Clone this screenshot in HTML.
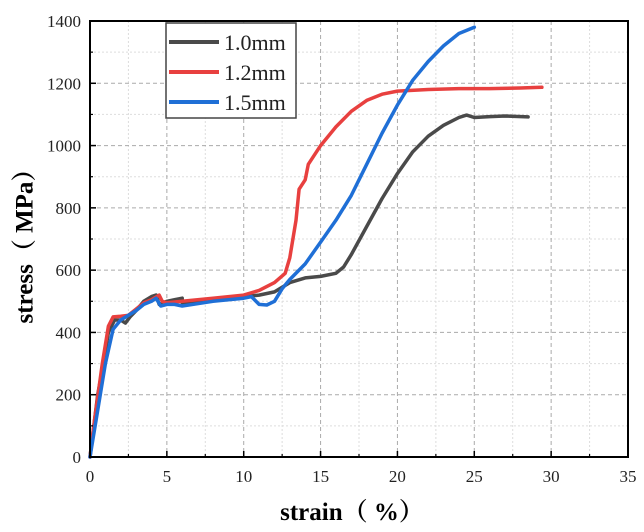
<!DOCTYPE html>
<html><head><meta charset="utf-8"><style>
body{margin:0;background:#fff;}
svg{display:block;font-family:"Liberation Serif","Noto Serif CJK SC",serif;}
</style></head><body>
<svg id="chart" width="644" height="532" viewBox="0 0 644 532">
<g id="grid"></g>
<g id="series"></g>
<g id="axes"></g>
<g id="legend"></g>
<text x="27" y="240" font-size="25" font-weight="bold" text-anchor="middle" transform="rotate(-90 27 240)" dominant-baseline="middle">stress（ MPa）</text>
<text x="352" y="520" font-size="25" font-weight="bold" text-anchor="middle">strain（ %）</text>
</svg>
<script>
const xTicks=[0,5,10,15,20,25,30,35];
const yTicks=[0,200,400,600,800,1000,1200,1400];
const seriesNames=["1.0mm","1.2mm","1.5mm"];
const seriesColors=["#4a4a4a","#e8403f","#1f6fd6"];
const s10x=[0,0.5,0.8,1.2,1.6,2,2.3,2.6,3,3.5,4,4.3,4.5,5,5.5,6,6,8,10,11,12,13,14,15,16,16.5,17,18,19,20,21,22,23,24,24.5,25,26,27,28.5];
const s10y=[0,200,280,400,440,440,430,450,470,500,515,520,490,500,505,510,495,505,515,520,530,560,575,580,590,610,650,740,830,910,980,1030,1065,1090,1098,1090,1093,1095,1092];
const s12x=[0,0.3,0.8,1.2,1.5,2,2.5,3,3.5,4,4.5,4.7,5,6,8,10,11,12,12.7,13,13.4,13.6,14,14.2,15,16,17,18,19,20,22,24,26,28,29.4];
const s12y=[0,120,300,420,450,452,455,475,495,505,520,500,495,500,510,520,535,560,590,640,760,860,890,940,1000,1060,1110,1145,1165,1175,1180,1183,1183,1185,1187];
const s15x=[0,0.5,1,1.5,2,2.5,3,3.5,4,4.3,4.6,5,5.5,6,8,10,10.5,11,11.5,12,12.5,13,14,15,16,17,18,19,20,21,22,23,24,25];
const s15y=[0,150,300,410,440,455,470,490,500,510,485,490,490,485,500,510,515,490,488,500,540,570,620,690,760,840,940,1040,1130,1210,1270,1320,1360,1380];
const L=90,R=628,T=21,B=457,XMAX=35,YMAX=1400;
const sx=v=>L+(R-L)*v/XMAX, sy=v=>B-(B-T)*v/YMAX;
const NS="http://www.w3.org/2000/svg";
function mk(tag,attrs,parent){const e=document.createElementNS(NS,tag);for(const k in attrs)e.setAttribute(k,attrs[k]);parent.appendChild(e);return e;}
const grid=document.getElementById('grid'),axes=document.getElementById('axes'),ser=document.getElementById('series'),leg=document.getElementById('legend');
// minor grid
for(let v=2.5;v<XMAX;v+=5){const l=mk('line',{x1:sx(v),x2:sx(v),y1:T,y2:B,stroke:'#ddd','stroke-width':1,'stroke-dasharray':'2,2'},grid);}
for(let v=100;v<YMAX;v+=200){const l=mk('line',{x1:L,x2:R,y1:sy(v),y2:sy(v),stroke:'#ddd','stroke-width':1,'stroke-dasharray':'2,2'},grid);}
xTicks.forEach(v=>{if(v>0&&v<XMAX){const l=mk('line',{x1:sx(v),x2:sx(v),y1:T,y2:B,stroke:'#aaa','stroke-width':1,'stroke-dasharray':'4,3'},grid);}
 const t=mk('line',{x1:sx(v),x2:sx(v),y1:B,y2:B-6,stroke:'#000','stroke-width':1.5},axes);
 const tx=mk('text',{x:sx(v),y:B+25,'font-size':17,'text-anchor':'middle',fill:'#222'},axes);tx.textContent=v;});
for(let v=2.5;v<XMAX;v+=5){const t=mk('line',{x1:sx(v),x2:sx(v),y1:B,y2:B-3,stroke:'#000','stroke-width':1.2},axes);}
yTicks.forEach(v=>{if(v>0&&v<YMAX){const l=mk('line',{x1:L,x2:R,y1:sy(v),y2:sy(v),stroke:'#aaa','stroke-width':1,'stroke-dasharray':'4,3'},grid);}
 const t=mk('line',{x1:L,x2:L+6,y1:sy(v),y2:sy(v),stroke:'#000','stroke-width':1.5},axes);
 const tx=mk('text',{x:L-9,y:sy(v)+6,'font-size':17,'text-anchor':'end',fill:'#222'},axes);tx.textContent=v;});
for(let v=100;v<YMAX;v+=200){const t=mk('line',{x1:L,x2:L+3,y1:sy(v),y2:sy(v),stroke:'#000','stroke-width':1.2},axes);}
const frame=mk('rect',{x:L,y:T,width:R-L,height:B-T,fill:'none',stroke:'#000','stroke-width':2},axes);

const data=[[s10x,s10y],[s12x,s12y],[s15x,s15y]];
data.forEach((d,i)=>{const pts=d[0].map((x,j)=>sx(x).toFixed(1)+','+sy(d[1][j]).toFixed(1)).join(' ');
 const p=mk('polyline',{points:pts,fill:'none',stroke:seriesColors[i],'stroke-width':3.5,'stroke-linejoin':'round','stroke-linecap':'round'},ser);
 
 });
const box=mk('rect',{x:166,y:23,width:130,height:95,fill:'#fff',stroke:'#444','stroke-width':1.5},leg);

seriesNames.forEach((n,i)=>{const y=42+i*30;
 const l=mk('line',{x1:169,x2:219,y1:y,y2:y,stroke:seriesColors[i],'stroke-width':4},leg);
 
 const t=mk('text',{x:224,y:y+8,'font-size':22,fill:'#222'},leg);t.textContent=n;
 });
</script>
</body></html>
